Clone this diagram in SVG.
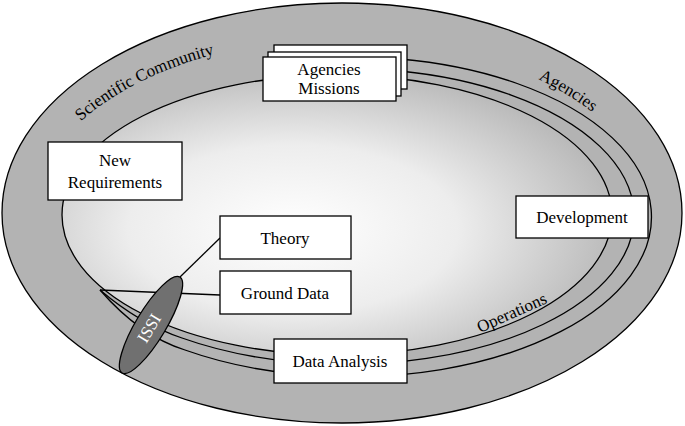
<svg xmlns="http://www.w3.org/2000/svg" width="685" height="426" viewBox="0 0 685 426">
<defs>
<radialGradient id="g" cx="0.42" cy="0.55" r="0.6">
<stop offset="0" stop-color="#ffffff"/><stop offset="0.5" stop-color="#ededed"/><stop offset="1" stop-color="#b8b8b8"/>
</radialGradient>
<path id="top" d="M27,213 A316,190 0 0 1 657,213"/>
</defs>
<style>
.b{fill:#fff;stroke:#000;stroke-width:1.3}
.l{fill:none;stroke:#000;stroke-width:1.3}
text{font-family:"Liberation Serif","Times New Roman",serif;font-size:17px;fill:#000}
.c{text-anchor:middle}
</style>
<ellipse cx="342" cy="213" rx="340" ry="210" fill="#b3b3b3" stroke="#000" stroke-width="1.3"/>
<ellipse cx="337" cy="215" rx="275" ry="140" fill="url(#g)" stroke="none"/>
<text><textPath href="#top" startOffset="14%">Scientific Community</textPath></text>
<text><textPath href="#top" startOffset="76%">Agencies</textPath></text>
<text transform="translate(480,333) rotate(-24)">Operations</text>
<g id="connectors">
<ellipse class="l" cx="337" cy="215" rx="275" ry="140"/>
<path class="l" d="M100,290 Q140,324 182,338 A288,148 0 1 0 400,71"/>
<path class="l" d="M100,290 Q140,336 185,350 A300,160 0 1 0 400,59"/>
<line class="l" x1="180" y1="277" x2="220" y2="238"/>
<line class="l" x1="100" y1="290" x2="220" y2="295"/>
</g>
<g id="issi">
<ellipse cx="151" cy="325" rx="15" ry="56" transform="rotate(31 151 325)" fill="#707070" stroke="#000" stroke-width="1.3"/>
<text class="c" style="fill:#fff" transform="translate(154,331) rotate(-59)">ISSI</text>
</g>
<g id="agencies">
<rect class="b" x="274" y="45" width="133" height="44"/>
<rect class="b" x="268" y="52" width="133" height="44"/>
<rect class="b" x="263" y="57" width="133" height="44"/>
<text class="c" x="329" y="75">Agencies</text>
<text class="c" x="329" y="94">Missions</text>
</g>
<g id="newreq"><rect class="b" x="48" y="142" width="134" height="58"/>
<text class="c" x="115" y="166">New</text><text class="c" x="115" y="188">Requirements</text></g>
<g id="dev"><rect class="b" x="516" y="196" width="132" height="42"/><text class="c" x="582" y="223">Development</text></g>
<g id="theory"><rect class="b" x="220" y="216" width="131" height="43"/><text class="c" x="285" y="244">Theory</text></g>
<g id="ground"><rect class="b" x="220" y="271" width="131" height="43"/><text class="c" x="285" y="299">Ground Data</text></g>
<g id="analysis"><rect class="b" x="274" y="339" width="133" height="44"/><text class="c" x="340" y="367">Data Analysis</text></g>
</svg>
